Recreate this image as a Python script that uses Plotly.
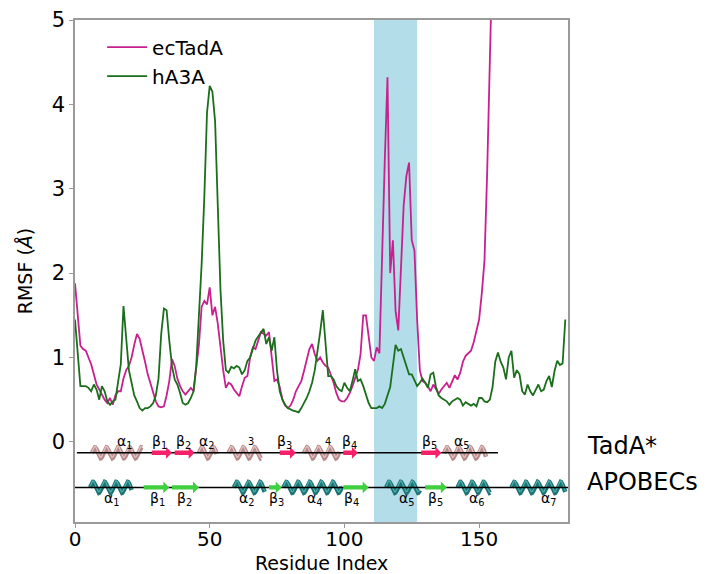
import numpy as np
import plotly.graph_objects as go

# Per-residue RMSF (Å)
ectada_rmsf = [
    1.88, 1.50, 1.14, 1.10, 1.08, 1.00, 0.92, 0.80, 0.68, 0.62,
    0.55, 0.50, 0.46, 0.52, 0.44, 0.55, 0.60, 0.60, 0.75, 0.85,
    0.90, 1.00, 1.15, 1.28, 1.22, 1.10, 0.95, 0.80, 0.70, 0.58,
    0.48, 0.42, 0.41, 0.42, 0.55, 0.72, 0.98, 0.90, 0.75, 0.66,
    0.60, 0.56, 0.60, 0.64, 0.60, 0.85, 1.15, 1.60, 1.67, 1.63,
    1.83, 1.50, 1.60, 1.40, 1.10, 0.85, 0.64, 0.70, 0.68, 0.62,
    0.58, 0.54, 0.66, 0.76, 0.78, 1.00, 1.12, 1.10, 1.20, 1.30,
    1.28, 1.26, 1.30, 1.00, 0.72, 0.74, 0.65, 0.50, 0.43, 0.40,
    0.43, 0.50, 0.60, 0.66, 0.72, 0.84, 0.96, 1.10, 1.16, 1.04,
    0.96, 1.00, 0.94, 0.90, 0.88, 0.80, 0.70, 0.58, 0.50, 0.48,
    0.48, 0.52, 0.58, 0.66, 0.75, 0.85, 1.04, 1.50, 1.50, 1.28,
    1.00, 0.96, 1.12, 1.05, 2.30, 3.35, 4.32, 2.00, 2.39, 1.55,
    1.32, 2.00, 2.80, 3.15, 3.31, 2.39, 2.27, 1.45, 0.85, 0.72,
    0.70, 0.66, 0.60, 0.68, 0.62, 0.57, 0.62, 0.66, 0.70, 0.64,
    0.72, 0.79, 0.74, 0.82, 0.95, 1.02, 1.05, 1.08, 1.18, 1.30,
    1.45, 1.76, 2.15, 3.20, 4.40, 5.60, 7.00, 8.50,
]

ha3a_rmsf = [
    1.45, 1.00, 0.66, 0.66, 0.66, 0.64, 0.60, 0.68, 0.62, 0.50,
    0.66, 0.60, 0.48, 0.44, 0.48, 0.50, 0.70, 0.92, 1.61, 1.20,
    0.85, 0.70, 0.55, 0.48, 0.40, 0.37, 0.40, 0.40, 0.42, 0.46,
    0.55, 0.75, 1.28, 1.58, 1.56, 1.20, 0.90, 0.74, 0.68, 0.58,
    0.46, 0.44, 0.46, 0.52, 0.60, 0.90, 1.50, 2.10, 2.90, 3.90,
    4.22, 4.15, 3.80, 2.80, 1.80, 1.20, 0.85, 0.82, 0.89, 0.87,
    0.90, 0.88, 0.80, 0.85, 0.96, 1.00, 1.10, 1.20, 1.25, 1.30,
    1.34, 1.16, 1.24, 1.08, 1.24, 0.84, 0.60, 0.50, 0.44, 0.40,
    0.38, 0.37, 0.36, 0.35, 0.40, 0.46, 0.52, 0.60, 0.70, 0.85,
    1.05, 1.30, 1.56, 1.15, 0.78, 0.78, 0.74, 0.66, 0.62, 0.60,
    0.70, 0.64, 0.60, 0.72, 0.86, 0.72, 0.74, 0.66, 0.55, 0.46,
    0.40, 0.40, 0.40, 0.42, 0.40, 0.45, 0.56, 0.65, 0.90, 1.15,
    1.08, 1.10, 1.00, 0.90, 0.80, 0.80, 0.72, 0.66, 0.70, 0.75,
    0.70, 0.64, 0.80, 0.82, 0.65, 0.55, 0.52, 0.50, 0.48, 0.44,
    0.48, 0.50, 0.52, 0.50, 0.43, 0.47, 0.45, 0.43, 0.45, 0.42,
    0.52, 0.52, 0.48, 0.47, 0.50, 0.65, 0.95, 1.06, 0.95, 0.88,
    0.74, 1.00, 1.08, 0.76, 0.85, 0.80, 0.60, 0.56, 0.68, 0.60,
    0.55, 0.62, 0.68, 0.60, 0.62, 0.72, 0.78, 0.65, 0.84, 0.96,
    0.91, 0.93, 1.45,
]

# Highlighted residue window
highlight_start, highlight_end = 111, 127

# Secondary structure elements: (kind, start residue, end residue, label, label residue)
tada_ss = [
    ("helix", 6.3, 24.8, "α<sub>1</sub>", 18.5),
    ("strand", 28.5, 36.0, "β<sub>1</sub>", 31.5),
    ("strand", 37.0, 44.4, "β<sub>2</sub>", 40.4),
    ("helix", 46.0, 52.6, "α<sub>2</sub>", 48.9),
    ("helix", 57.0, 69.0, "<sub>3</sub>", 65.5),
    ("strand", 76.0, 82.0, "β<sub>3</sub>", 77.8),
    ("helix", 85.0, 98.0, "<sub>4</sub>", 94.0),
    ("strand", 99.6, 105.0, "β<sub>4</sub>", 101.8),
    ("strand", 128.5, 136.0, "β<sub>5</sub>", 131.5),
    ("helix", 137.0, 152.6, "α<sub>5</sub>", 143.3),
]
tada_backbone = (0.7, 157.0)

apobec_ss = [
    ("helix", 5.6, 21.0, "α<sub>1</sub>", 13.7),
    ("strand", 25.5, 35.0, "β<sub>1</sub>", 30.7),
    ("strand", 36.0, 46.0, "β<sub>2</sub>", 40.7),
    ("helix", 59.0, 70.4, "α<sub>2</sub>", 63.7),
    ("strand", 72.0, 76.7, "β<sub>3</sub>", 74.8),
    ("helix", 77.4, 99.0, "α<sub>4</sub>", 88.9),
    ("strand", 99.6, 109.0, "β<sub>4</sub>", 102.6),
    ("helix", 115.5, 128.0, "α<sub>5</sub>", 123.0),
    ("strand", 130.0, 138.0, "β<sub>5</sub>", 134.0),
    ("helix", 142.0, 154.0, "α<sub>6</sub>", 148.9),
    ("helix", 162.0, 182.0, "α<sub>7</sub>", 175.9),
]
apobec_backbone = (0.0, 183.0)

TADA_Y, APOBEC_Y = -0.13, -0.54
TADA_LABEL_Y, APOBEC_LABEL_Y = 0.0, -0.68

MAGENTA = "#c8208e"
GREEN = "#1b6e1b"

fig = go.Figure()

fig.add_vrect(x0=highlight_start, x1=highlight_end, fillcolor="#b3dde8",
              opacity=1.0, line_width=0, layer="below")

fig.add_trace(go.Scatter(x=list(range(len(ectada_rmsf))), y=ectada_rmsf,
                         mode="lines", name="ecTadA",
                         line=dict(color=MAGENTA, width=1.8)))
fig.add_trace(go.Scatter(x=list(range(len(ha3a_rmsf))), y=ha3a_rmsf,
                         mode="lines", name="hA3A",
                         line=dict(color=GREEN, width=1.8)))


def draw_row(elements, backbone, yc, label_y, helix_color, helix_light,
             strand_color):
    fig.add_shape(type="line", x0=backbone[0], x1=backbone[1], y0=yc, y1=yc,
                  line=dict(color="black", width=1.5), layer="above")
    for kind, s, e, label, lx in elements:
        if kind == "helix":
            t = np.linspace(0, 1, 300)
            turns = max(1.5, (e - s) / 4.3)
            hx = s + t * (e - s)
            hy = yc + 0.065 * np.sin(2 * np.pi * turns * t)
            fig.add_trace(go.Scatter(x=hx, y=hy, mode="lines",
                                     line=dict(color=helix_color, width=4.5),
                                     showlegend=False, hoverinfo="skip"))
            fig.add_trace(go.Scatter(x=hx, y=hy + 0.012, mode="lines",
                                     line=dict(color=helix_light, width=1.2),
                                     showlegend=False, hoverinfo="skip"))
        else:
            h, H, hl = 0.026, 0.07, 2.2
            path = (f"M {s},{yc - h} L {e - hl},{yc - h} L {e - hl},{yc - H} "
                    f"L {e},{yc} L {e - hl},{yc + H} L {e - hl},{yc + h} "
                    f"L {s},{yc + h} Z")
            fig.add_shape(type="path", path=path, fillcolor=strand_color,
                          line=dict(width=0), layer="above")
        fig.add_annotation(x=lx, y=label_y, text=label, showarrow=False,
                           font=dict(size=14, color="black",
                                     family="DejaVu Sans"))


draw_row(tada_ss, tada_backbone, TADA_Y, TADA_LABEL_Y,
         "#b98a8a", "#e2c4c4", "#f51f6a")
draw_row(apobec_ss, apobec_backbone, APOBEC_Y, APOBEC_LABEL_Y,
         "#1d7373", "#4fb0b0", "#3fcf3f")

fig.add_annotation(xref="paper", yref="y", x=1.035, y=-0.05, text="TadA*",
                   showarrow=False, xanchor="left",
                   font=dict(size=24, color="black", family="DejaVu Sans"))
fig.add_annotation(xref="paper", yref="y", x=1.035, y=-0.48, text="APOBECs",
                   showarrow=False, xanchor="left",
                   font=dict(size=24, color="black", family="DejaVu Sans"))

# x-axis title placed just under the tick labels
fig.add_annotation(xref="paper", yref="paper", x=0.5, y=-0.081,
                   yanchor="middle", text="Residue Index", showarrow=False,
                   font=dict(size=19, color="black", family="DejaVu Sans"))

axis_style = dict(showline=True, linecolor="#9a9a9a", linewidth=1.5,
                  mirror=True, ticks="outside", tickcolor="#9a9a9a",
                  ticklen=4, showgrid=False, zeroline=False, automargin=False)

fig.update_xaxes(range=[0, 183], tickvals=[0, 50, 100, 150],
                 tickfont=dict(size=20, color="black"),
                 ticklabelstandoff=-6, **axis_style)
fig.update_yaxes(range=[-0.95, 5], tickvals=[0, 1, 2, 3, 4, 5],
                 tickfont=dict(size=21, color="black"),
                 title=dict(text="RMSF (<i>Å</i>)", font=dict(size=19),
                            standoff=14),
                 **axis_style)

fig.update_layout(
    width=712, height=574,
    margin=dict(l=75, r=144, t=20, b=52),
    plot_bgcolor="white", paper_bgcolor="white",
    font=dict(family="DejaVu Sans", color="black"),
    showlegend=True,
    legend=dict(x=0.055, y=0.985, xanchor="left", yanchor="top",
                bgcolor="rgba(0,0,0,0)", font=dict(size=20),
                itemwidth=40, tracegroupgap=2),
)

fig.write_html("out.html")
